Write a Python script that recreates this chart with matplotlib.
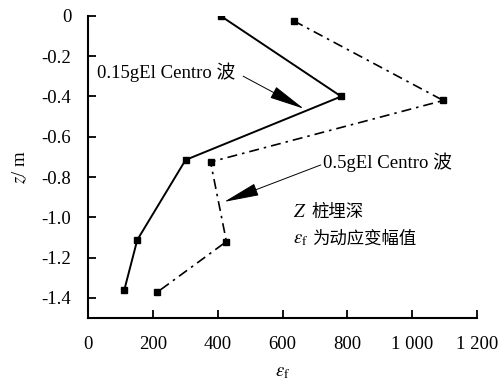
import numpy as np
import matplotlib.pyplot as plt

plt.rcParams['font.family'] = ['Liberation Serif', 'Noto Sans CJK SC']
plt.rcParams['mathtext.fontset'] = 'stix'

# 0.15g El Centro
strain_015 = [409, 781, 301, 152, 112]
depth_015 = [0.0, -0.40, -0.715, -1.112, -1.36]
# 0.5g El Centro
strain_05 = [635, 1096, 378, 427, 213]
depth_05 = [-0.025, -0.42, -0.725, -1.12, -1.372]

x_ticks = [0, 200, 400, 600, 800, 1000, 1200]
x_labels = ['0', '200', '400', '600', '800', '1 000', '1 200']
y_ticks = [0, -0.2, -0.4, -0.6, -0.8, -1.0, -1.2, -1.4]
y_labels = ['0', '-0.2', '-0.4', '-0.6', '-0.8', '-1.0', '-1.2', '-1.4']

fs = 13.5

fig = plt.figure(figsize=(5, 3.87), dpi=100)
ax = fig.add_axes([0.176, 0.178, 0.778, 0.781])

ax.plot(strain_015, depth_015, '-', color='k', lw=1.4, marker='s', ms=5)
ax.plot(strain_05, depth_05, color='k', lw=1.2, marker='s', ms=5,
        linestyle=(0, (6, 3, 1.5, 3)))

ax.set_xlim(0, 1200)
ax.set_ylim(-1.5, 0)
ax.set_xticks(x_ticks)
ax.set_xticklabels(x_labels)
ax.set_yticks(y_ticks)
ax.set_yticklabels(y_labels)
for s in ['top', 'right']:
    ax.spines[s].set_visible(False)
for s in ['left', 'bottom']:
    ax.spines[s].set_linewidth(1.5)
ax.tick_params(direction='in', length=6, width=1.3, labelsize=fs)
ax.tick_params(axis='y', pad=12)
ax.tick_params(axis='x', pad=13)

ax.set_xlabel(r'$\varepsilon_\mathrm{f}$', fontsize=fs, labelpad=8)
ax.set_ylabel(r'$z$/ m', fontsize=fs, labelpad=9)

ap = dict(arrowstyle='-|>,head_length=1.4,head_width=0.25', color='k',
          lw=0.7, mutation_scale=16)
ax.text(28, -0.278, '0.15gEl Centro 波', fontsize=fs, va='center', ha='left')
ax.annotate('', xy=(673, -0.467), xytext=(471, -0.293), arrowprops=ap)
ax.text(726, -0.725, '0.5gEl Centro 波', fontsize=fs, va='center', ha='left')
ax.annotate('', xy=(412, -0.928), xytext=(726, -0.735), arrowprops=ap)

ax.text(633, -0.978, r'$Z$', fontsize=fs, va='center', ha='left')
ax.text(690, -0.978, '桩埋深', fontsize=fs - 1, va='center', ha='left')
ax.text(633, -1.112, r'$\varepsilon_\mathrm{f}$', fontsize=fs,
        va='center', ha='left')
ax.text(690, -1.112, '为动应变幅值', fontsize=fs - 1, va='center', ha='left')

fig.savefig('out.png', dpi=100)
